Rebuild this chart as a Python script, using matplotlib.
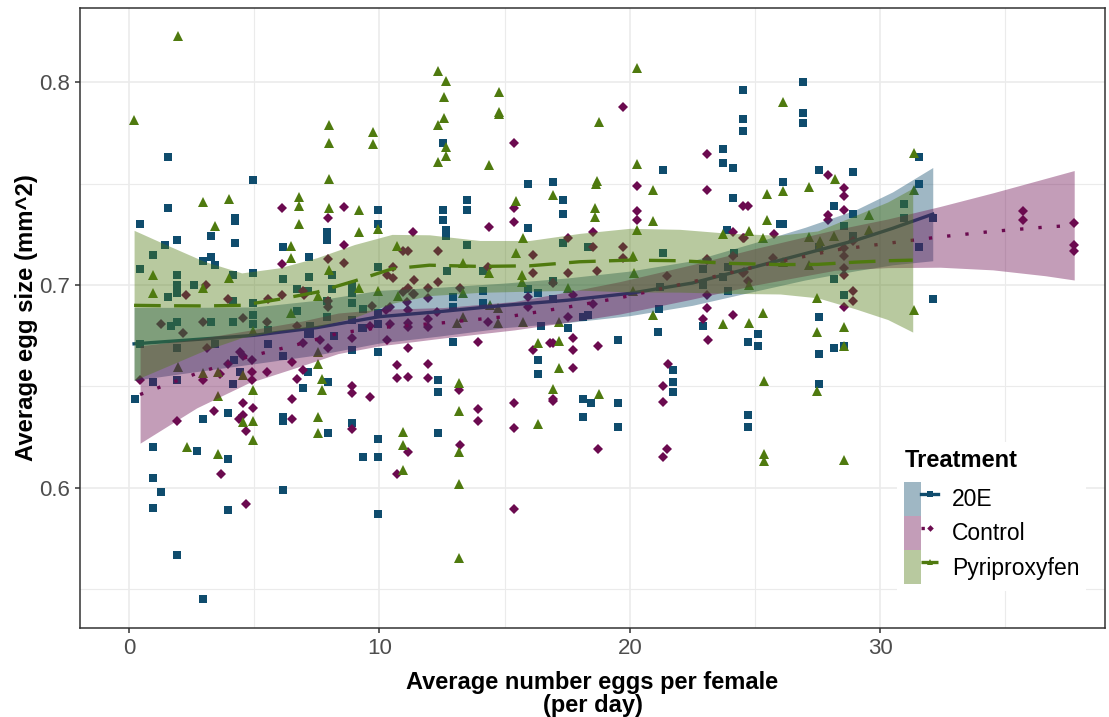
import numpy as np
import matplotlib
matplotlib.use("Agg")
import matplotlib.pyplot as plt
from matplotlib.lines import Line2D
from matplotlib.patches import Patch
from matplotlib.legend_handler import HandlerTuple

plt.rcParams['font.family'] = ['Liberation Sans', 'DejaVu Sans']

treatments = ['20E', 'Control', 'Pyriproxyfen']
colors = ['#0f4c6d', '#6b0a4f', '#4f7a0f']

# --- raw points (eggs per female per day, egg size) ---
e20_x = [1.55, 4.94, 1.55, 0.44, 4.25, 4.25, 9.93, 9.93, 1.93, 1.45, 3.27, 4.25, 6.16, 7.92, 7.92,
         0.95, 2.94, 3.27, 3.43, 7.18, 0.44, 1.93, 4.14, 4.94, 6.16, 7.18, 8.12, 9.93, 1.93, 2.6,
         1.93, 1.55, 6.7, 8.12, 8.92, 8.92, 7.16, 4.17, 4.94, 4.94, 8.92, 9.33, 9.93, 6.7, 7.92, 7.92,
         1.67, 1.93, 3.26, 4.14, 0.44, 1.93, 3.43, 4.94, 5.54, 5.54, 4.21, 4.43, 0.95, 1.93, 4.14,
         6.16, 7.16, 7.16, 6.94, 0.24,
         0.95, 0.95, 1.28, 0.95, 1.93, 2.94, 2.7, 3.97, 3.97, 2.94, 3.97, 6.16, 6.16, 6.16, 7.96,
         8.92, 9.33, 9.93, 9.93, 9.93, 7.96, 8.92, 9.93, 8.19, 9.33,
         12.55, 12.55, 12.66, 12.66, 13.51, 13.51, 13.51, 15.92, 15.92, 7.23, 7.23, 8.89, 9.32, 9.93,
         12.69, 12.93, 12.93, 14.13, 14.13, 14.13, 12.93, 15.92, 16.35, 16.45, 16.32, 16.32, 12.33, 12.33,
         12.55, 16.92, 17.35, 17.35, 21.34, 23.71, 23.71, 24.13, 24.51, 24.51, 24.51, 24.13, 16.92, 17.35,
         18.34, 21.34, 22.94, 23.93, 23.71, 23.93, 22.94, 21.2, 24.17, 23.89, 21.17, 18.34,
         21.14, 19.54, 17.52, 18.12, 16.92, 22.94, 24.73, 25.13, 25.13, 21.74, 21.74, 21.74, 25.98,
         12.33, 18.14, 18.14, 18.44, 19.54, 19.54, 24.73, 24.73,
         26.93, 26.93, 26.93, 27.56, 28.9, 26.1, 31.56, 31.56, 28.15, 28.93, 30.95, 30.95, 26.1, 32.12,
         31.56, 28.55, 28.93, 28.15, 28.55, 32.12, 27.56, 27.56, 27.56, 28.15, 28.55, 27.56]
e20_y = [0.763, 0.752, 0.738, 0.730, 0.733, 0.7315, 0.737, 0.730, 0.722, 0.720, 0.724, 0.721, 0.719, 0.726, 0.722,
         0.715, 0.712, 0.714, 0.710, 0.714, 0.708, 0.705, 0.705, 0.706, 0.703, 0.704, 0.705, 0.709, 0.700, 0.700,
         0.696, 0.694, 0.698, 0.698, 0.700, 0.696, 0.697, 0.692, 0.691, 0.685, 0.691, 0.688, 0.686, 0.687, 0.692, 0.684,
         0.680, 0.682, 0.682, 0.682, 0.671, 0.669, 0.671, 0.681, 0.678, 0.671, 0.663, 0.657, 0.652, 0.653, 0.651,
         0.665, 0.676, 0.657, 0.649, 0.644,
         0.620, 0.605, 0.598, 0.590, 0.567, 0.545, 0.618, 0.614, 0.589, 0.634, 0.637, 0.635, 0.633, 0.599, 0.627,
         0.632, 0.615, 0.624, 0.615, 0.587, 0.652, 0.668, 0.667, 0.675, 0.679,
         0.737, 0.732, 0.727, 0.724, 0.742, 0.737, 0.720, 0.750, 0.728, 0.680, 0.676, 0.683, 0.679, 0.681,
         0.707, 0.694, 0.689, 0.707, 0.697, 0.691, 0.672, 0.698, 0.696, 0.680, 0.663, 0.656, 0.653, 0.647,
         0.770, 0.751, 0.742, 0.735, 0.757, 0.767, 0.760, 0.758, 0.796, 0.782, 0.776, 0.743, 0.702, 0.721,
         0.719, 0.716, 0.708, 0.709, 0.704, 0.697, 0.700, 0.699, 0.716, 0.727, 0.688, 0.685,
         0.677, 0.673, 0.679, 0.684, 0.693, 0.680, 0.672, 0.676, 0.670, 0.658, 0.652, 0.647, 0.730,
         0.627, 0.635, 0.644, 0.642, 0.642, 0.630, 0.636, 0.630,
         0.800, 0.785, 0.780, 0.757, 0.756, 0.751, 0.763, 0.750, 0.739, 0.735, 0.740, 0.733, 0.730, 0.733,
         0.719, 0.729, 0.724, 0.703, 0.695, 0.693, 0.684, 0.719, 0.666, 0.669, 0.670, 0.651]

ctrl_x = [6.1, 8.6, 7.96, 8.6, 11.35, 6.1, 7.96, 8.6, 10.95, 11.15, 10.53, 10.29, 10.55, 3.08, 2.28,
          6.1, 6.94, 6.99, 5.54, 3.97, 7.96, 9.69, 11.35, 4.56, 1.28, 2.97,
          2.17, 3.1, 0.44, 4.43, 4.57, 4.9, 3.97, 3.63, 2.97, 4.9, 4.9, 5.5, 5.5, 6.52, 6.7, 6.94, 6.7,
          6.94, 6.52,
          1.93, 3.41, 3.66, 4.66, 4.54, 4.94, 4.57, 4.41, 4.66, 6.52, 8.92, 8.92, 9.62, 8.92, 10.69,
          10.69, 11.13, 11.13, 10.29, 7.96, 7.63, 11.13, 10.69, 11.95, 11.95,
          14.38, 15.39, 15.39, 16.12, 12.33, 11.38, 12.33, 14.35, 16.15, 11.13, 10.95, 11.38, 11.95, 11.95,
          13.22, 7.96, 10.42, 10.26, 11.09, 11.13, 12.31, 15.95, 15.95, 14.35, 9.62, 10.42, 11.13, 11.13,
          11.95, 11.95, 8.89, 13.93, 13.19, 16.12, 16.81,
          15.38, 19.72, 23.1, 23.1, 20.3, 20.3, 20.3, 24.53, 24.73, 18.52, 17.52, 24.13, 24.53, 19.72,
          19.72, 18.52, 24.13, 23.1, 17.52, 18.7, 21.5, 24.53, 24.73, 23.1, 23.1, 24.13, 17.75, 18.54, 16.92,
          17.75, 17.75, 17.75, 16.92, 18.72, 17.52, 21.51, 21.34, 22.94, 23.13, 24.56, 25.73, 24.56, 23.07,
          16.92,
          13.93, 13.93, 13.22, 15.38, 15.38, 15.38, 16.92, 18.72, 21.34, 21.5, 21.34,
          27.9, 28.57, 28.57, 28.57, 27.9, 27.9, 25.76, 28.93, 28.57, 28.57, 28.57, 28.57, 28.93, 28.93,
          28.57, 35.71, 35.71, 37.75, 37.75, 37.75]
ctrl_y = [0.738, 0.7385, 0.733, 0.720, 0.726, 0.7105, 0.713, 0.711, 0.717, 0.717, 0.709, 0.705, 0.7035, 0.700, 0.695,
          0.695, 0.697, 0.695, 0.693, 0.693, 0.692, 0.6895, 0.6956, 0.6837, 0.681, 0.682,
          0.6765, 0.669, 0.653, 0.667, 0.665, 0.663, 0.661, 0.656, 0.653, 0.657, 0.653, 0.657, 0.682, 0.662,
          0.6535, 0.658, 0.680, 0.6715, 0.644,
          0.633, 0.638, 0.607, 0.592, 0.642, 0.6395, 0.636, 0.634, 0.628, 0.634, 0.650, 0.6466, 0.645, 0.629,
          0.6605, 0.654, 0.6545, 0.669, 0.673, 0.669, 0.673, 0.6175, 0.607, 0.661, 0.654,
          0.7285, 0.738, 0.731, 0.715, 0.717, 0.7025, 0.7016, 0.709, 0.7058, 0.6984, 0.6967, 0.6955, 0.6984,
          0.6934, 0.6984, 0.6893, 0.6893, 0.6877, 0.6918, 0.6877, 0.6868, 0.6942, 0.6893, 0.6819, 0.6798,
          0.6808, 0.6814, 0.6794, 0.6831, 0.6794, 0.6737, 0.672, 0.6482, 0.6679, 0.6712,
          0.770, 0.788, 0.7646, 0.7467, 0.749, 0.7367, 0.7322, 0.7388, 0.7388, 0.7261, 0.7232, 0.7261, 0.7232,
          0.7186, 0.7133, 0.7186, 0.7142, 0.713, 0.7059, 0.7068, 0.7043, 0.7059, 0.7018, 0.6952, 0.6887,
          0.6854, 0.6952, 0.6906, 0.701,
          0.6737, 0.6679, 0.6589, 0.6715, 0.6699, 0.6844, 0.661, 0.6502, 0.6832, 0.6729, 0.7063, 0.7132,
          0.723, 0.7123, 0.6436,
          0.6388, 0.6329, 0.6211, 0.6419, 0.6293, 0.5893, 0.6428, 0.6191, 0.6424, 0.6189, 0.6153,
          0.7544, 0.7479, 0.7437, 0.7372, 0.7347, 0.7322, 0.7252, 0.7216, 0.7183, 0.7142, 0.7084, 0.7051,
          0.6972, 0.692, 0.6891, 0.7364, 0.7322, 0.7306, 0.7196, 0.7166]

pyr_x = [1.94, 0.21, 7.99, 7.99, 9.76, 9.76, 7.99, 2.97, 3.99, 6.78, 6.78, 7.99, 9.2, 3.43, 6.78, 9.2,
         9.96, 6.47, 6.47, 10.71, 0.97, 0.97, 2.97, 3.99, 7.99, 7.56, 9.2, 9.96, 10.75, 6.47,
         4.94, 1.94, 2.97, 3.57, 4.57, 4.94, 3.57, 7.56, 7.56, 7.7, 7.7, 4.57, 4.94, 4.94, 2.3, 3.54,
         7.56, 7.56, 10.95, 10.95, 10.95,
         13.35, 13.35, 14.38, 13.1, 13.35, 14.75, 14.75, 14.42, 15.44, 15.75, 15.44, 15.71, 15.71, 15.75,
         16.35, 13.19,
         12.35, 12.65, 12.58, 12.58, 12.35, 14.76, 14.76, 14.76, 12.65, 12.65, 12.35, 14.38, 18.77, 20.3,
         20.3, 16.95, 18.68, 18.64, 18.61, 18.61, 20.94, 20.94, 20.3, 25.47, 25.47, 23.73, 24.77, 25.33,
         17.52, 20.14, 20.17, 20.14, 24.77, 20.94, 25.33,
         17.19, 17.19, 17.19, 16.95, 23.73, 24.77, 25.36, 18.78,
         13.19, 13.19, 13.19, 13.19, 16.35, 25.36, 25.36,
         26.13, 31.36, 31.36, 26.13, 27.16, 28.19, 29.55, 29.55, 27.16, 27.6, 28.17, 26.13, 27.46, 31.36,
         27.46, 28.57, 28.57, 27.46, 28.57, 27.57, 27.17]
pyr_y = [0.8227, 0.7813, 0.7788, 0.7702, 0.7755, 0.7696, 0.7524, 0.7408, 0.7426, 0.7433, 0.7388, 0.738,
         0.7372, 0.729, 0.7301, 0.726, 0.7276, 0.7191, 0.7133, 0.7191, 0.7051, 0.6961, 0.6985, 0.7035,
         0.7076, 0.6944, 0.6985, 0.6972, 0.6944, 0.6862,
         0.6775, 0.6597, 0.6564, 0.6572, 0.6556, 0.6482, 0.6452, 0.6668, 0.6609, 0.6535, 0.648, 0.6323,
         0.6329, 0.6235, 0.6199, 0.6165, 0.635, 0.6268, 0.6273, 0.6211, 0.6087,
         0.7107, 0.6959, 0.7058, 0.6815, 0.6843, 0.6885, 0.6811, 0.690, 0.7416, 0.723, 0.7156, 0.7049,
         0.7016, 0.6819, 0.6712, 0.6515,
         0.8057, 0.8008, 0.7929, 0.7824, 0.7791, 0.7952, 0.7855, 0.7842, 0.7679, 0.7635, 0.7607, 0.759,
         0.7804, 0.8071, 0.7598, 0.7445, 0.7512, 0.7498, 0.738, 0.7335, 0.747, 0.7317, 0.727, 0.7449,
         0.7322, 0.7252, 0.7268, 0.7232, 0.6985, 0.7142, 0.7059, 0.6969, 0.7001, 0.6851, 0.6862,
         0.6819, 0.6725, 0.6589, 0.6487, 0.6808, 0.6811, 0.6528, 0.6462,
         0.6378, 0.6175, 0.6017, 0.5652, 0.6313, 0.6165, 0.6132,
         0.7901, 0.7651, 0.747, 0.7465, 0.7483, 0.7524, 0.7347, 0.7273, 0.7235, 0.7216, 0.7243, 0.7113,
         0.6936, 0.6878, 0.6767, 0.6794, 0.6701, 0.6477, 0.6137, 0.7189, 0.7099]

# --- loess fits: fit value and half-width of the 95% band ---
e20_fx = [0.2, 2.5, 5, 7.5, 10, 12.5, 15, 17.5, 20, 22.5, 25, 27, 29, 30.5, 32.1]
e20_fit = [0.671, 0.673, 0.6752, 0.679, 0.6844, 0.687, 0.690, 0.6925, 0.6959, 0.701, 0.709, 0.7155,
           0.722, 0.728, 0.735]
e20_se = [0.018, 0.016, 0.014, 0.0135, 0.013, 0.012, 0.011, 0.011, 0.011, 0.011, 0.012, 0.013, 0.015,
          0.018, 0.023]

ctrl_fx = [0.44, 2.7, 4.75, 6.9, 8.35, 10, 12.55, 15.4, 17.6, 19.6, 22.5, 25, 28.2, 30.3, 32.4, 34.5,
           36.6, 37.75]
ctrl_fit = [0.646, 0.6564, 0.6646, 0.6712, 0.6762, 0.679, 0.6814, 0.6849, 0.6893, 0.6937, 0.7016, 0.709,
            0.7173, 0.7206, 0.7238, 0.7265, 0.7286, 0.7295]
ctrl_se = [0.024, 0.017, 0.013, 0.011, 0.010, 0.009, 0.0075, 0.007, 0.0075, 0.008, 0.0085, 0.009, 0.010,
           0.012, 0.015, 0.019, 0.024, 0.027]

pyr_fx = [0.2, 1.5, 3, 4.5, 6, 7.5, 9, 10.5, 12, 14, 16, 18, 20, 22, 24, 26, 27.5, 29, 30.3, 31.3]
pyr_fit = [0.690, 0.6898, 0.6897, 0.690, 0.693, 0.6965, 0.702, 0.708, 0.7098, 0.7092, 0.7095, 0.7115,
           0.7123, 0.712, 0.7107, 0.7101, 0.7102, 0.7113, 0.712, 0.7123]
pyr_se = [0.037, 0.030, 0.022, 0.016, 0.0155, 0.017, 0.018, 0.017, 0.015, 0.0128, 0.0125, 0.014, 0.0157,
          0.0155, 0.0148, 0.0145, 0.0165, 0.023, 0.029, 0.0355]

points = [(e20_x, e20_y), (ctrl_x, ctrl_y), (pyr_x, pyr_y)]
fits = [(e20_fx, e20_fit, e20_se), (ctrl_fx, ctrl_fit, ctrl_se), (pyr_fx, pyr_fit, pyr_se)]
markers = [('s', 6.3), ('D', 4.8), ('^', 6.6)]
styles = ['-', (0, (1, 4.5)), (0, (8, 4))]

fig = plt.figure(figsize=(11.09, 7.17), dpi=100)
ax = fig.add_axes([80 / 1109, 1 - 628 / 717, 1025 / 1109, 620 / 717])

for (px, py), c, (m, ms) in zip(points, colors, markers):
    ax.plot(px, py, ls='none', marker=m, ms=ms, color=c, mew=0, zorder=2)

# ribbon then line, group by group (later groups sit on top)
z = 3
for (fx, fit, se), c, ls in zip(fits, colors, styles):
    fx = np.array(fx)
    fit = np.array(fit)
    se = np.array(se)
    ax.fill_between(fx, fit - se, fit + se, color=c, alpha=0.4, lw=0, zorder=z)
    ax.plot(fx, fit, color=c, lw=2.4, ls=ls, dash_capstyle='butt', zorder=z + 1)
    z += 2

ax.set_xlim(-1.96, 38.98)
ax.set_ylim(0.5308, 0.8367)
ax.set_xticks([0, 10, 20, 30])
ax.set_xticks([5, 15, 25, 35], minor=True)
ax.set_yticks([0.6, 0.7, 0.8])
ax.set_yticks([0.55, 0.65, 0.75], minor=True)
ax.grid(which='major', color='#ebebeb', lw=1.2, zorder=0)
ax.grid(which='minor', color='#ebebeb', lw=0.8, zorder=0)
ax.set_axisbelow(True)
ax.tick_params(which='major', length=3.5, width=1.1, color='#333333', labelsize=16,
               labelcolor='#4d4d4d', pad=4)
ax.tick_params(which='minor', length=0)
for s in ax.spines.values():
    s.set_color('#333333')
    s.set_linewidth(1.1)

ax.set_xlabel('Average number eggs per female\n(per day)', fontsize=17, fontweight='bold',
              linespacing=1.05, labelpad=8)
ax.set_ylabel('Average egg size (mm^2)', fontsize=17.2, fontweight='bold', labelpad=0.5)

handles = []
for c, (m, ms), ls in zip(colors, markers, styles):
    handles.append((Patch(facecolor=c, alpha=0.4, lw=0),
                    Line2D([], [], color=c, lw=2.4, ls=ls, marker=m, ms=ms * 0.7, mew=0)))
leg = ax.legend(handles, treatments, handler_map={tuple: HandlerTuple(ndivide=None, pad=0)},
                title='Treatment', loc='upper left', bbox_to_anchor=(886 / 1109, 1 - 431 / 717),
                bbox_transform=fig.transFigure, fontsize=16.5,
                title_fontproperties={'weight': 'bold', 'size': 17},
                handlelength=1.485, handleheight=1.91, labelspacing=0, handletextpad=0.6,
                borderpad=0.3, frameon=True, fancybox=False, framealpha=1, alignment='left')
leg.get_frame().set_edgecolor('white')
leg.get_frame().set_linewidth(0)
leg._legend_box.sep = 7

fig.savefig('out.png', dpi=100)
